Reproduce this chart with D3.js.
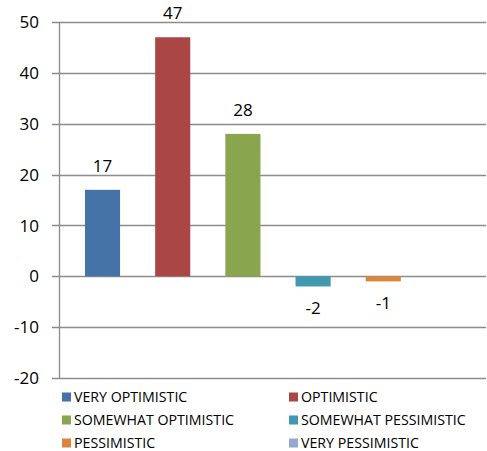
<!DOCTYPE html>
<html><head><meta charset="utf-8">
<script src="https://cdn.jsdelivr.net/npm/d3@7"></script>
<style>body{margin:0;background:#fff;}svg{display:block;font-family:"Open Sans","Liberation Sans",sans-serif;}</style>
</head><body><svg id="c" width="487" height="451"></svg>
<script>
const categories = ["VERY OPTIMISTIC","OPTIMISTIC","SOMEWHAT OPTIMISTIC","SOMEWHAT PESSIMISTIC","PESSIMISTIC","VERY PESSIMISTIC"];
const values = [17, 47, 28, -2, -1, 0];
const colors = ["#4572A7","#AA4643","#89A54E","#4198AF","#DB843D","#93A9CF"];
const yTicks = [-20,-10,0,10,20,30,40,50];

(function () {
const svg = d3.select("#c");
const pLeft = 59, pRight = 486, pTop = 22, pBottom = 378;
const y = d3.scaleLinear().domain([-20, 50]).range([pBottom, pTop]);
const x = d3.scaleBand().domain(categories).range([pLeft, 497]).paddingInner(0.5).paddingOuter(0.37);

svg.append("g").selectAll("line").data(yTicks).join("line")
  .attr("x1", pLeft - 7).attr("x2", pRight)
  .attr("y1", d => Math.round(y(d)) + 0.5).attr("y2", d => Math.round(y(d)) + 0.5)
  .attr("stroke", "#8c8c8c").attr("stroke-width", 1.3);
svg.append("line").attr("x1", pLeft + 0.5).attr("x2", pLeft + 0.5)
  .attr("y1", y(50)).attr("y2", y(-20)).attr("stroke", "#8c8c8c").attr("stroke-width", 1.3);

svg.append("g").selectAll("text").data(yTicks).join("text")
  .attr("x", 39).attr("y", d => y(d)).attr("dy", "0.36em")
  .attr("text-anchor", "end").attr("font-size", 17).attr("fill", "#000")
  .text(d => d);

svg.append("g").selectAll("rect").data(values).join("rect")
  .attr("x", (d, i) => x(categories[i]))
  .attr("width", x.bandwidth())
  .attr("y", d => y(Math.max(0, d)))
  .attr("height", d => Math.abs(y(d) - y(0)))
  .attr("fill", (d, i) => colors[i]);

svg.append("g").selectAll("text").data(values.slice(0, 5)).join("text")
  .attr("x", (d, i) => x(categories[i]) + x.bandwidth() / 2)
  .attr("y", d => d >= 0 ? y(d) - 18 : y(d) + 28)
  .attr("text-anchor", "middle").attr("font-size", 17).attr("fill", "#000")
  .text(d => d);

const lg = svg.append("g");
categories.forEach((c, i) => {
  const col = i % 2, row = Math.floor(i / 2);
  const lx = col === 0 ? 62 : 289, ly = 397 + row * 23;
  lg.append("rect").attr("x", lx).attr("y", ly - 4.5).attr("width", 9).attr("height", 9).attr("fill", colors[i]);
  lg.append("text").attr("x", lx + 12).attr("y", ly).attr("dy", "0.36em")
    .attr("font-size", 14.2).attr("fill", "#000").text(c);
});
})();
</script></body></html>
